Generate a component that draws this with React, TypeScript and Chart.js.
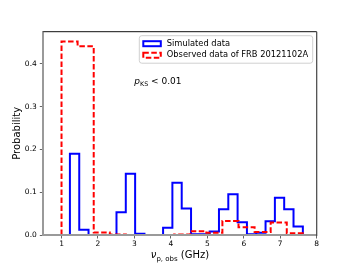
import React, { useEffect, useRef } from 'react';
import { Chart, registerables } from 'chart.js';

Chart.register(...registerables);

// Blue histogram (simulated data): bin edges and probabilities
const blueEdges = [1.23, 1.486, 1.741, 1.997, 2.252, 2.508, 2.763, 3.019, 3.275, 3.53, 3.786, 4.041, 4.297, 4.553, 4.808, 5.064, 5.319, 5.575, 5.83, 6.086, 6.342, 6.597, 6.853, 7.108, 7.364, 7.62];
const blueValues = [0.19, 0.012, 0, 0, 0, 0.053, 0.143, 0.003, 0, 0, 0.017, 0.122, 0.062, 0.002, 0.002, 0.008, 0.06, 0.095, 0.03, 0.002, 0.005, 0.032, 0.087, 0.06, 0.02];

// Red histogram (observed data of FRB 20121102A)
const redEdges = [1.0, 1.441, 1.883, 2.324, 2.765, 3.207, 3.648, 4.089, 4.531, 4.972, 5.413, 5.855, 6.296, 6.737, 7.179, 7.62];
const redValues = [0.452, 0.441, 0.006, 0.001, 0, 0, 0, 0.001, 0.009, 0.005, 0.033, 0.018, 0.007, 0.029, 0.004];

const xTicks = [1, 2, 3, 4, 5, 6, 7, 8];
const yTicks = [0, 0.1, 0.2, 0.3, 0.4];
const xRange = [0.5, 8];
const yRange = [0, 0.475];

const legendLabels = ['Simulated data', 'Observed data of FRB 20121102A'];
const yTitle = 'Probability';
const xTitleParts = ['\u03bd', 'p, obs', ' (GHz)'];
const annotationParts = ['p', 'KS', ' < 0.01'];

const FONT = 'DejaVu Sans';
const BLUE = '#0000ff';
const RED = '#ff0000';
const DASH = [5.5, 2.5];

function stepPoints(edges: number[], values: number[]) {
  const pts = [{ x: edges[0], y: 0 }];
  for (let i = 0; i < values.length; i++) pts.push({ x: edges[i], y: values[i] });
  pts.push({ x: edges[edges.length - 1], y: 0 });
  return pts;
}

function drawParts(ctx: CanvasRenderingContext2D, parts: { t: string; f: string; dy: number }[], x: number, y: number, center: boolean) {
  let total = 0;
  for (const p of parts) {
    ctx.font = p.f;
    total += ctx.measureText(p.t).width;
  }
  let cx = center ? x - total / 2 : x;
  for (const p of parts) {
    ctx.font = p.f;
    ctx.fillText(p.t, cx, y + p.dy);
    cx += ctx.measureText(p.t).width;
  }
}

const overlay = {
  id: 'overlay',
  afterDraw(chart: any) {
    const { ctx, chartArea: a } = chart;
    ctx.save();
    // top and right spines
    ctx.setLineDash([]);
    ctx.strokeStyle = '#111';
    ctx.lineWidth = 1;
    ctx.beginPath();
    ctx.moveTo(a.left, a.top);
    ctx.lineTo(a.right, a.top);
    ctx.stroke();
    ctx.strokeStyle = '#444';
    ctx.lineWidth = 1.2;
    ctx.beginPath();
    ctx.moveTo(a.right, a.top);
    ctx.lineTo(a.right, a.bottom + 1);
    ctx.stroke();

    // legend
    const fx = a.left + 96;
    const fy = a.top + 4;
    const fw = a.right - 4 - fx;
    const fh = 27.5;
    ctx.beginPath();
    const r = 2.5;
    ctx.moveTo(fx + r, fy);
    ctx.lineTo(fx + fw - r, fy);
    ctx.quadraticCurveTo(fx + fw, fy, fx + fw, fy + r);
    ctx.lineTo(fx + fw, fy + fh - r);
    ctx.quadraticCurveTo(fx + fw, fy + fh, fx + fw - r, fy + fh);
    ctx.lineTo(fx + r, fy + fh);
    ctx.quadraticCurveTo(fx, fy + fh, fx, fy + fh - r);
    ctx.lineTo(fx, fy + r);
    ctx.quadraticCurveTo(fx, fy, fx + r, fy);
    ctx.closePath();
    ctx.fillStyle = 'rgba(255,255,255,0.85)';
    ctx.fill();
    ctx.strokeStyle = '#d0d0d0';
    ctx.lineWidth = 1;
    ctx.stroke();

    const hx = fx + 4;
    const hw = 17.5;
    const rows = [fy + 8, fy + 19.5];
    const cols = [BLUE, RED];
    for (let i = 0; i < 2; i++) {
      ctx.strokeStyle = cols[i];
      ctx.lineWidth = 2;
      ctx.setLineDash(i === 1 ? DASH : []);
      ctx.strokeRect(hx, rows[i] - 2.5, hw, 5);
      ctx.setLineDash([]);
      ctx.fillStyle = '#000';
      ctx.font = `8.3px "${FONT}"`;
      ctx.textBaseline = 'middle';
      ctx.textAlign = 'left';
      ctx.fillText(legendLabels[i], hx + hw + 6, rows[i]);
    }

    // annotation p_KS < 0.01
    ctx.fillStyle = '#000';
    ctx.textBaseline = 'alphabetic';
    drawParts(
      ctx,
      [
        { t: annotationParts[0], f: `italic 9px "${FONT}"`, dy: 0 },
        { t: annotationParts[1], f: `6.3px "${FONT}"`, dy: 2 },
        { t: annotationParts[2], f: `9px "${FONT}"`, dy: 0 },
      ],
      a.left + 91,
      a.top + 52.5,
      false
    );

    // x axis title
    drawParts(
      ctx,
      [
        { t: xTitleParts[0], f: `italic 10px "${FONT}"`, dy: 0 },
        { t: xTitleParts[1], f: `7px "${FONT}"`, dy: 2.5 },
        { t: xTitleParts[2], f: `10px "${FONT}"`, dy: 0 },
      ],
      (a.left + a.right) / 2,
      258,
      true
    );
    ctx.restore();
  },
};

export default function App() {
  const ref = useRef<HTMLCanvasElement>(null);
  useEffect(() => {
    if (!ref.current) return;
    const chart = new Chart(ref.current, {
      type: 'scatter',
      data: {
        datasets: [
          {
            label: legendLabels[0],
            data: stepPoints(blueEdges, blueValues),
            showLine: true,
            stepped: true,
            borderColor: BLUE,
            borderWidth: 2,
            pointRadius: 0,
            fill: false,
            order: 2,
          },
          {
            label: legendLabels[1],
            data: stepPoints(redEdges, redValues),
            showLine: true,
            stepped: true,
            borderColor: RED,
            borderWidth: 2,
            borderDash: DASH,
            pointRadius: 0,
            fill: false,
            order: 1,
          },
        ],
      },
      options: {
        animation: false,
        responsive: false,
        devicePixelRatio: 1,
        layout: { padding: { left: 0, top: 31.7, right: 35.3, bottom: 0 } },
        plugins: { legend: { display: false }, tooltip: { enabled: false } },
        scales: {
          x: {
            type: 'linear',
            min: xRange[0],
            max: xRange[1],
            afterFit: (s: any) => {
              s.height = 29;
            },
            afterBuildTicks: (s: any) => {
              s.ticks = xTicks.map((v) => ({ value: v }));
            },
            ticks: {
              color: '#000',
              font: { family: FONT, size: 7.5 },
              padding: 1,
              maxRotation: 0,
              callback: (v: any) => String(v),
            },
            grid: { display: true, drawOnChartArea: false, drawTicks: true, tickLength: 3.5, tickColor: '#666', tickWidth: 1 },
            border: { display: true, color: '#9a9a9a', width: 2, z: 1 },
            title: { display: false },
          },
          y: {
            type: 'linear',
            min: yRange[0],
            max: yRange[1],
            afterFit: (s: any) => {
              s.width = 43.3;
            },
            afterBuildTicks: (s: any) => {
              s.ticks = yTicks.map((v) => ({ value: v }));
            },
            ticks: {
              color: '#000',
              font: { family: FONT, size: 7.5 },
              padding: 3,
              callback: (v: any) => Number(v).toFixed(1),
            },
            grid: { display: true, drawOnChartArea: false, drawTicks: true, tickLength: 3.5, tickColor: '#666', tickWidth: 1 },
            border: { display: true, color: '#9a9a9a', width: 2, z: 1 },
            title: {
              display: true,
              text: yTitle,
              color: '#000',
              font: { family: FONT, size: 10 },
              padding: { top: 11.5, bottom: 0 },
            },
          },
        },
      },
      plugins: [overlay],
    } as any);
    return () => chart.destroy();
  }, []);
  return (
    <div style={{ position: 'fixed', left: 0, top: 0, width: 352, height: 264, background: '#fff' }}>
      <canvas ref={ref} width={352} height={264} style={{ display: 'block' }} />
    </div>
  );
}
